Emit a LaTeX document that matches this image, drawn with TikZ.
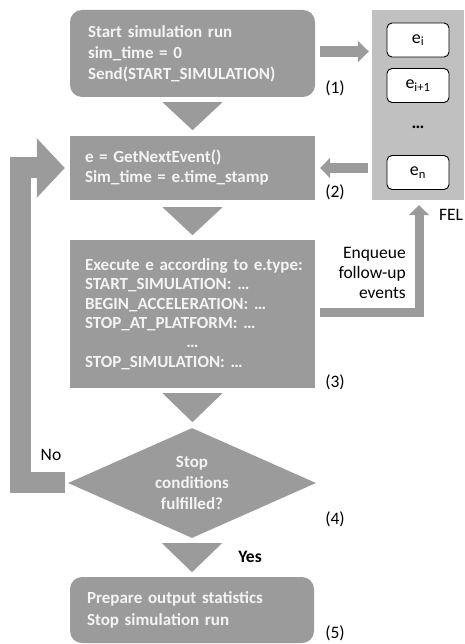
\documentclass[tikz,border=0pt]{standalone}
\usepackage{fontspec}
\setmainfont{Carlito}
\usetikzlibrary{arrows.meta,shapes.geometric,calc}
\definecolor{boxgray}{RGB}{155,155,155}
\definecolor{felgray}{RGB}{192,192,192}
\definecolor{boxtext}{RGB}{244,244,244}
\begin{document}
\begin{tikzpicture}[x=1pt,y=-1pt,
  procbox/.style={fill=boxgray, text=boxtext, minimum width=245pt, align=left, inner ysep=0pt},
  evbox/.style={draw=black, fill=white, rounded corners=5pt, minimum width=62pt, minimum height=34pt, line width=0.9pt, inner sep=0pt, font=\fontsize{18}{20}\selectfont},
  lbl/.style={text=black, inner sep=0pt, font=\fontsize{17.5}{20}\selectfont},
  flowarrow/.style={draw=boxgray},
  tri/.style={fill=boxgray}
]
\useasboundingbox (0,0) rectangle (464,644);

% FEL
\node[fill=felgray, minimum width=92pt, minimum height=190pt, inner sep=0pt] (fel) at (418,105) {};
\node[evbox] (ei) at (418,40) {e\textsubscript{i}};
\node[evbox] (ei1) at (418,85.5) {e\textsubscript{i+1}};
\node[lbl, font=\fontsize{18}{20}\selectfont\bfseries] (edots) at (418,127) {…};
\node[evbox] (en) at (418,172.5) {e\textsubscript{n}};
\node[lbl] (fellabel) at (451,215) {FEL};

% process boxes
\node[procbox, rounded corners=12pt, minimum height=87pt, inner xsep=18pt, text width=209pt,
      font=\fontsize{17}{21}\selectfont\bfseries] (start) at (192.5,53.5)
  {Start simulation run\\sim\_time = 0\\Send(START\_SIMULATION)};
\node[procbox, minimum height=64pt, inner xsep=15pt, text width=215pt,
      font=\fontsize{17}{20}\selectfont\bfseries] (next) at (192.5,168)
  {e = GetNextEvent()\\Sim\_time = e.time\_stamp};
\node[procbox, minimum height=148pt, inner xsep=15pt, text width=215pt,
      font=\fontsize{17}{19.4}\selectfont\bfseries] (exec) at (192.5,314)
  {\mbox{Execute e according to e.type:}\\START\_SIMULATION: …\\BEGIN\_ACCELERATION: …\\STOP\_AT\_PLATFORM: …\\\makebox[215pt]{…}\\STOP\_SIMULATION: …};
\node[diamond, fill=boxgray, text=boxtext, aspect=2.25, minimum width=248pt, minimum height=110pt,
      inner sep=0pt, align=center, font=\fontsize{17}{21}\selectfont\bfseries] (cond) at (192,483)
  {Stop\\conditions\\fulfilled?};
\node[procbox, rounded corners=12pt, minimum width=244pt, minimum height=66pt, inner xsep=17pt, text width=210pt,
      font=\fontsize{17}{22}\selectfont\bfseries] (final) at (192,610)
  {Prepare output statistics\\Stop simulation run};

% labels
\node[lbl] (l1) at (335,88) {(1)};
\node[lbl] (l2) at (335,192) {(2)};
\node[lbl] (l3) at (335,382) {(3)};
\node[lbl] (l4) at (335,519) {(4)};
\node[lbl] (l5) at (335,633) {(5)};
\node[lbl, anchor=east, align=right, font=\fontsize{17.5}{20}\selectfont] (enq) at (406,273) {Enqueue\\follow-up\\events};
\node[lbl] (no) at (51,455) {No};
\node[lbl, font=\fontsize{17.5}{20}\selectfont\bfseries] (yes) at (250,557) {Yes};

% down triangles
\fill[tri] ($(start.south)+(-30,5)$) -- ($(start.south)+(30,5)$) -- ($(start.south)+(0,33)$) -- cycle;
\fill[tri] ($(next.south)+(-30,7)$) -- ($(next.south)+(30,7)$) -- ($(next.south)+(0,35)$) -- cycle;
\fill[tri] ($(exec.south)+(-30,5)$) -- ($(exec.south)+(30,5)$) -- ($(exec.south)+(0,34)$) -- cycle;
\fill[tri] ($(cond.south)+(-30,5)$) -- ($(cond.south)+(30,5)$) -- ($(cond.south)+(0,34)$) -- cycle;

% arrows to/from FEL
\draw[flowarrow, line width=11pt, -{Triangle[width=21pt,length=11pt]}]
  ($(start.east)+(5,-2)$) -- ($(fel.west |- start.east)+(-3,-2)$);
\draw[flowarrow, line width=10pt, -{Triangle[width=20pt,length=10pt]}]
  ($(fel.west |- next.east)+(-4,0)$) -- ($(next.east)+(5,0)$);
\draw[flowarrow, line width=9pt, -{Triangle[width=20pt,length=10pt]}]
  ($(exec.east)+(5,-1.5)$) -| ($(fel.south)+(1,5)$);

% No loop
\draw[flowarrow, line width=21pt, -{Triangle[width=58pt,length=28pt]}]
  ($(cond.west)+(-3,-1)$) -- ($(cond.west)+(-47,-1)$) -- ($(next.west)+(-49,0)$) -- ($(next.west)+(-5,0)$);
\end{tikzpicture}
\end{document}
